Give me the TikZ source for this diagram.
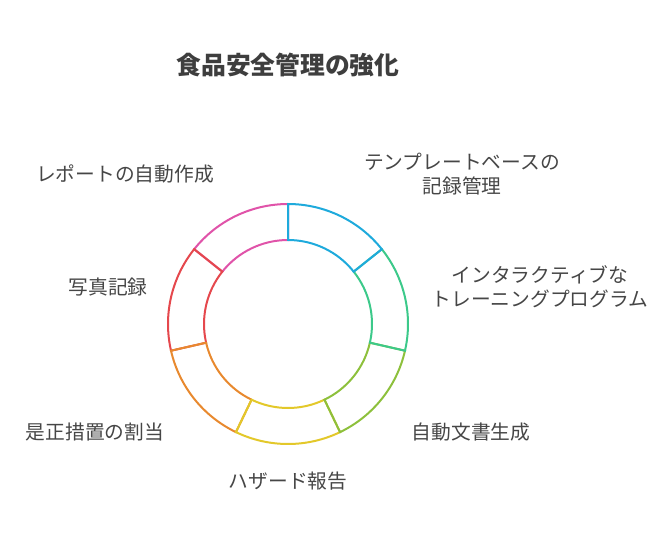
\documentclass[tikz,border=0pt]{standalone}
\usepackage{fontspec}
\setmainfont{Noto Sans CJK JP}
\tikzset{every picture/.style={line width=0.75pt}}
\definecolor{segblue}{RGB}{30,170,220}
\definecolor{seggreen}{RGB}{60,201,138}
\definecolor{segolive}{RGB}{141,192,60}
\definecolor{segyellow}{RGB}{227,200,42}
\definecolor{segorange}{RGB}{232,137,46}
\definecolor{segred}{RGB}{229,72,77}
\definecolor{segpink}{RGB}{224,83,169}
\definecolor{txtgray}{RGB}{70,70,70}
\tikzset{
  lbl/.style={text=txtgray, font=\fontsize{14.8}{18}\selectfont, align=center, inner sep=0pt},
  ttl/.style={text={rgb,255:red,62;green,62;blue,62}, font=\fontsize{18.6}{22}\selectfont\bfseries, inner sep=0pt}
}

\begin{document}
\begin{tikzpicture}[x=0.75pt,y=0.75pt,yscale=-1,xscale=1]
\useasboundingbox (0,0) rectangle (654,540);

%Shape: Ring segments, drawn pink first so each boundary takes the next colour
\begin{scope}[shift={(288,324)}]
\foreach \k/\col in {6/segpink,5/segred,4/segorange,3/segyellow,2/segolive,1/seggreen,0/segblue}{
  \pgfmathsetmacro{\sa}{-90+\k*360/7}
  \pgfmathsetmacro{\sb}{\sa+360/7}
  \draw [color=\col, line width=1.5] (\sa:120) arc [start angle=\sa, end angle=\sb, radius=120] -- (\sb:84) arc [start angle=\sb, end angle=\sa, radius=84] -- cycle ;
}
\end{scope}

% Text Node
\draw (288,65) node (title) [ttl] {食品安全管理の強化};
% Text Node
\draw (462,174) node (tmpl) [lbl] {テンプレートベースの\\記録管理};
% Text Node
\draw (540,287) node (train) [lbl] {インタラクティブな\\トレーニングプログラム};
% Text Node
\draw (471,432) node (docgen) [lbl] {自動文書生成};
% Text Node
\draw (288,481) node (hazard) [lbl] {ハザード報告};
% Text Node
\draw (95,432) node (corrective) [lbl] {是正措置の割当};
% Text Node
\draw (108,287) node (photo) [lbl] {写真記録};
% Text Node
\draw (125,174) node (report) [lbl] {レポートの自動作成};

\end{tikzpicture}
\end{document}
